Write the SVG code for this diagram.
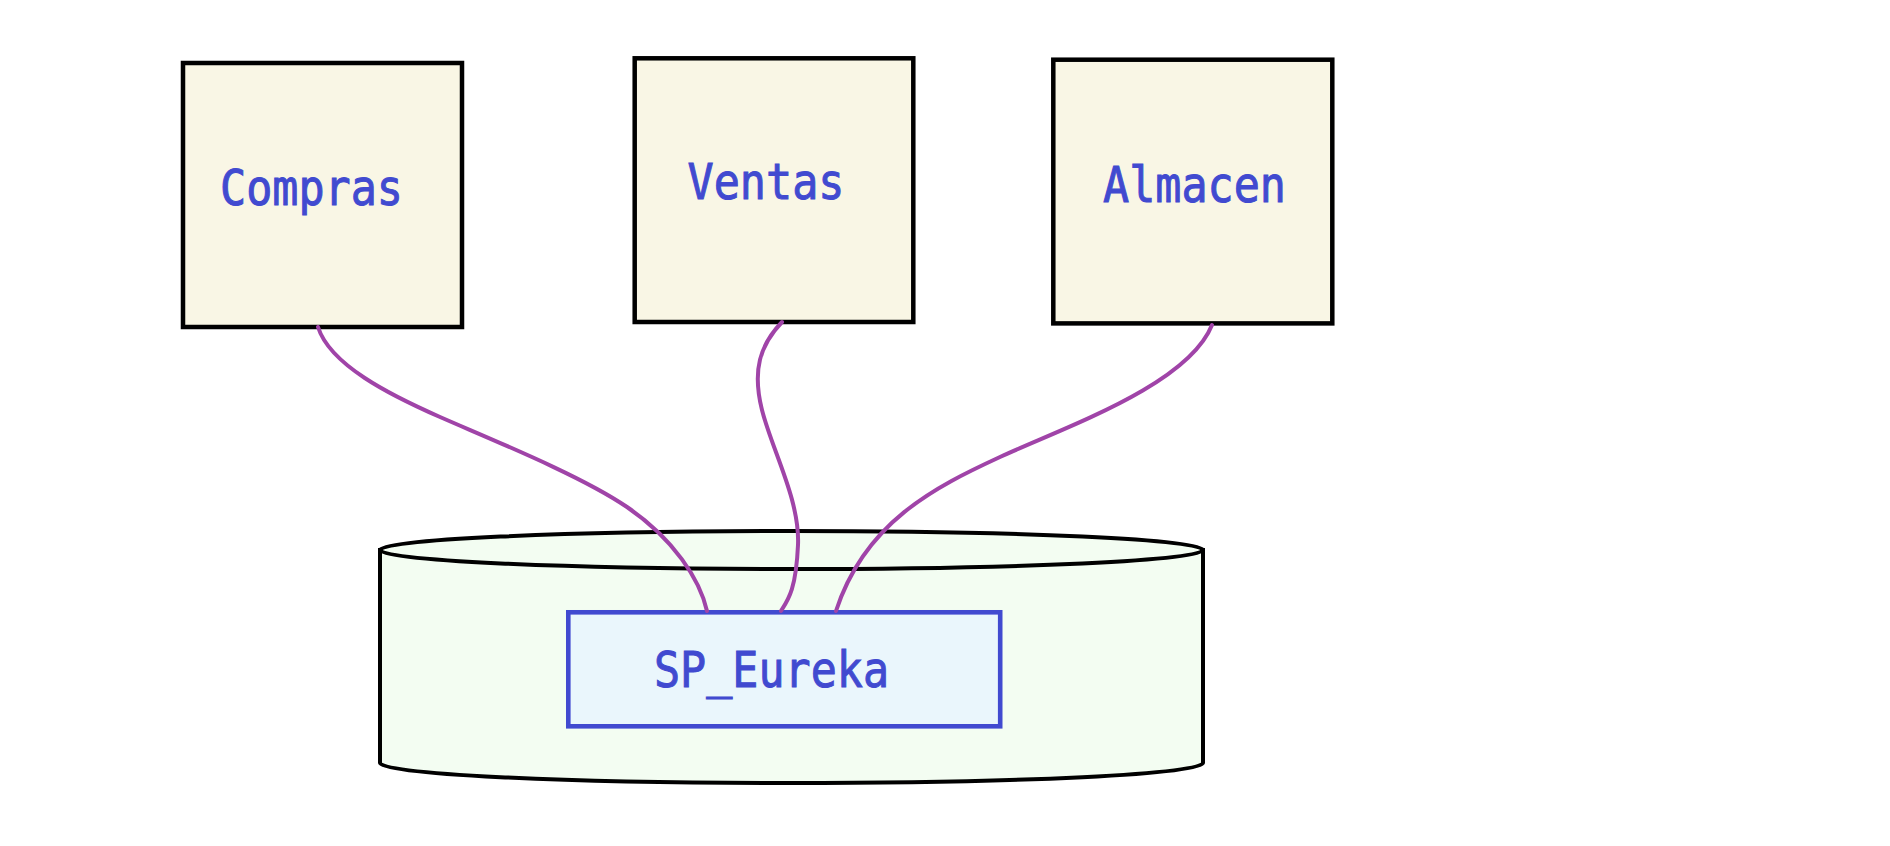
<svg xmlns="http://www.w3.org/2000/svg" width="1890" height="846" viewBox="0 0 1890 846">
  <style>
    .box { fill: #f9f6e5; stroke: #000; stroke-width: 4.5; }
    .cyl { fill: #f3fdf2; stroke: #000; stroke-width: 4; }
    .sp { fill: #eaf6fc; stroke: #414ad0; stroke-width: 4.6; }
    .lbl { font-family: "DejaVu Sans Mono", "Liberation Mono", monospace; font-size: 50px; fill: #414ad0; stroke: #414ad0; stroke-width: 1; }
    .conn { fill: none; stroke: #a044a8; stroke-width: 4; stroke-linecap: round; }
  </style>
  <rect width="1890" height="846" fill="#ffffff"/>
  <g id="compras">
    <rect class="box" x="183" y="63" width="279" height="264"/>
    <text class="lbl" x="220" y="205" textLength="183" lengthAdjust="spacingAndGlyphs">Compras</text>
  </g>
  <g id="ventas">
    <rect class="box" x="634.7" y="58.3" width="278.6" height="263.7"/>
    <text class="lbl" x="687.5" y="199" textLength="157" lengthAdjust="spacingAndGlyphs">Ventas</text>
  </g>
  <g id="almacen">
    <rect class="box" x="1053.3" y="59.7" width="279" height="263.7"/>
    <text class="lbl" x="1103" y="202.3" textLength="183" lengthAdjust="spacingAndGlyphs">Almacen</text>
  </g>
  <g id="database">
    <path class="cyl" d="M380,550 L380,763 A411.5,20 0 0 0 1203,763 L1203,550 Z"/>
    <ellipse class="cyl" cx="791.5" cy="550" rx="411.5" ry="19"/>
  </g>
  <g id="sp_eureka">
    <rect class="sp" x="568.3" y="612.3" width="431.9" height="114"/>
    <text class="lbl" x="654" y="686.7" textLength="235" lengthAdjust="spacingAndGlyphs">SP_Eureka</text>
  </g>
  <g id="connectors">
    <path class="conn" d="M318,327 C330,365 390,395 440,417 S580,475 627,507 S700,580 707,611"/>
    <path class="conn" d="M782,322 C760,345 752,370 762,410 S800,500 798,545 C796,590 788,600 781,611"/>
    <path class="conn" d="M1212,325 C1188,385 1065,427 1000,457 C935,487 865,522 836,611"/>
  </g>
</svg>
